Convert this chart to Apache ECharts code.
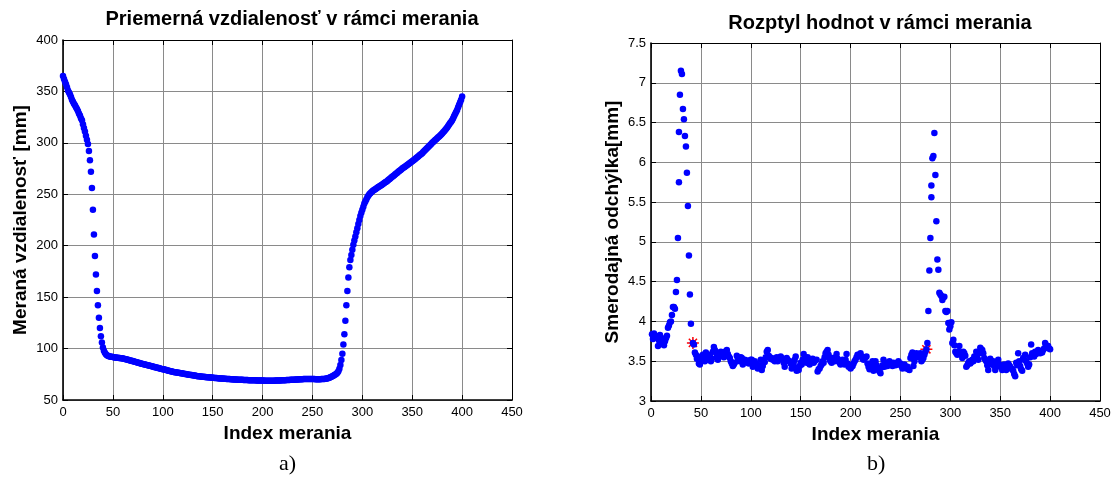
<!DOCTYPE html>
<html>
<head>
<meta charset="utf-8">
<script src="https://cdn.jsdelivr.net/npm/echarts@6/dist/echarts.min.js"></script>
<style>
html,body{margin:0;padding:0;background:#fff;}
#chart{width:1120px;height:482px;}
</style>
</head>
<body>
<div id="chart"></div>
<script>
// ---- Data ----
const xTicks = [0, 50, 100, 150, 200, 250, 300, 350, 400, 450];
const distTicks = [50, 100, 150, 200, 250, 300, 350, 400];
const sdTicks = [3, 3.5, 4, 4.5, 5, 5.5, 6, 6.5, 7, 7.5];

// Mean measured distance [mm] for measurement index 0..400
const distValues = [
 365,362,359.5,357,354,351,349,347,344.5,342,340,338,336.5,334.5,333,331,328.5,326.5,324,322,318,314.5,311,307,303,299,
 292,283,272,256,235,211,190,172,156,142,130,120,112,106,101,98,96,94.5,93.5,93,92.6,92.3,92.1,92,91.8,
 91.6,91.4,91.2,91.1,91,90.9,90.8,90.6,90.5,90.3,90.1,89.9,89.6,89.4,89.1,88.8,88.5,88.3,88,87.8,87.5,87.2,86.9,86.6,86.3,86.1,85.8,85.5,85.3,85,84.8,84.5,84.3,84,83.8,83.5,83.3,83,82.8,82.5,82.2,82,81.7,81.5,81.2,81,80.7,80.5,80.2,80,
 79.8,79.5,79.3,79,78.8,78.5,78.3,78,77.8,77.5,77.3,77.1,76.9,76.7,76.5,76.4,76.2,76,75.9,75.7,75.5,75.3,75.2,75,74.8,74.6,74.5,74.3,74.2,74,73.8,73.7,73.5,73.4,73.2,73.1,73,72.8,72.7,72.6,72.5,72.4,72.3,72.2,72.1,72,71.9,71.8,71.8,71.7,
 71.6,71.5,71.4,71.3,71.2,71.1,71,71,70.9,70.8,70.7,70.6,70.6,70.5,70.4,70.3,70.3,70.2,70.2,70.1,70,70,69.9,69.9,69.8,69.8,69.7,69.7,69.6,69.6,69.5,69.5,69.5,69.4,69.4,69.3,69.3,69.3,69.2,69.2,69.1,69.1,69.1,69,69,69,69,68.9,68.9,68.9,
 68.9,68.8,68.8,68.8,68.8,68.8,68.8,68.8,68.8,68.8,68.8,68.8,68.9,68.9,68.9,69,69,69,69.1,69.1,69.2,69.2,69.3,69.4,69.4,69.5,69.5,69.6,69.6,69.7,69.8,69.8,69.9,69.9,70,70,70.1,70.1,70.2,70.2,70.3,70.3,70.4,70.4,70.4,70.4,70.4,70.4,70.4,70.4,
 70.3,70.3,70.2,70.2,70.2,70.2,70.2,70.2,70.3,70.3,70.4,70.5,70.6,70.8,71,71.3,71.6,72,72.5,73,73.6,74.2,74.8,75.5,76.5,78,80.5,
 84,89,95,104,114,127,142,156,169,179,186,191,196,201,205,209,213,217,221,225,229,232,235,238,241,243,245,247,248.5,250,251,252,253,
 253.7,254.4,255,255.7,256.4,257,257.6,258.2,258.9,259.5,260.2,260.9,261.6,262.3,263,263.8,264.6,265.4,266.2,267,267.8,268.6,269.4,270.2,271,271.8,272.6,273.4,274.2,275,275.7,276.4,277.1,277.8,278.5,279.2,279.9,280.6,281.3,282,282.8,283.6,284.4,285.2,286,286.8,287.6,288.4,289.2,290,
 291,292,293,294,295,296,297,298,299,300,300.9,301.8,302.7,303.6,304.5,305.4,306.3,307.2,308.1,309,310.2,311.4,312.6,313.8,315,316.4,317.8,319.2,320.6,322,324,326,328,330,332,334.5,337,339.5,342,345
];

// Standard deviation [mm]: [measurement index, value]
const sdPoints = [
 [1,3.84],[2,3.78],[3,3.85],[4,3.80],[6,3.81],[7,3.69],[8,3.76],[9,3.83],[11,3.79],[12,3.72],[13,3.70],[14,3.75],[15,3.79],[16,3.82],[17,3.92],[18,3.95],[19,3.99],[20,4.00],
 [21,4.08],[22,4.18],[23,4.18],[24,4.16],[25,4.37],[26,4.52],[27,5.05],[28,6.38],[28,5.75],[29,6.85],[30,7.15],[31,7.11],[32,6.67],[33,6.54],[34,6.33],[35,6.20],[36,5.87],[37,5.45],[38,4.83],[39,4.34],[40,3.97],
 [42,3.73],[43,3.71],[44,3.61],[45,3.58],[46,3.53],[47,3.56],[48,3.47],[49,3.46],[50,3.50],[51,3.55],[52,3.58],[53,3.54],[54,3.50],[55,3.61],[56,3.57],[57,3.52],[58,3.55],[59,3.58],[60,3.50],
 [61,3.53],[62,3.62],[63,3.68],[64,3.64],[65,3.62],[66,3.57],[67,3.52],[68,3.56],[69,3.60],[70,3.62],[72,3.58],[73,3.55],[74,3.62],[76,3.64],[77,3.59],[78,3.56],[79,3.54],[80,3.50],
 [81,3.47],[82,3.44],[83,3.46],[84,3.48],[86,3.57],[87,3.54],[88,3.52],[89,3.50],[90,3.55],[91,3.54],[92,3.46],[93,3.50],[94,3.52],[96,3.51],[97,3.48],[98,3.47],[99,3.50],[100,3.52],
 [101,3.52],[102,3.43],[103,3.48],[104,3.50],[106,3.46],[107,3.41],[108,3.45],[110,3.52],[111,3.39],[112,3.44],[113,3.51],[114,3.49],[115,3.55],[116,3.62],[117,3.64],[118,3.57],[119,3.55],[120,3.53],
 [121,3.54],[122,3.52],[124,3.50],[126,3.55],[127,3.50],[128,3.53],[130,3.56],[131,3.54],[132,3.52],[133,3.48],[134,3.43],[135,3.50],[136,3.54],[137,3.52],[139,3.50],[140,3.47],
 [141,3.41],[142,3.45],[143,3.48],[144,3.52],[145,3.56],[146,3.38],[147,3.42],[148,3.39],[149,3.44],[150,3.48],[151,3.46],[152,3.52],[153,3.59],[154,3.55],[155,3.50],[156,3.48],[157,3.55],[158,3.52],[159,3.46],[160,3.50],
 [161,3.52],[162,3.53],[163,3.48],[164,3.50],[166,3.52],[167,3.37],[168,3.40],[169,3.41],[170,3.44],[171,3.46],[172,3.50],[173,3.48],[174,3.55],[175,3.60],[176,3.62],[177,3.64],[178,3.58],[179,3.52],[180,3.50],
 [181,3.48],[182,3.54],[183,3.52],[184,3.50],[185,3.55],[186,3.59],[187,3.53],[188,3.50],[189,3.48],[190,3.46],[191,3.50],[192,3.52],[193,3.49],[194,3.46],[195,3.52],[196,3.59],[197,3.47],[198,3.43],[199,3.45],[200,3.41],
 [201,3.43],[202,3.44],[203,3.47],[204,3.50],[205,3.52],[206,3.55],[207,3.58],[208,3.57],[209,3.58],[210,3.60],[211,3.56],[212,3.53],[213,3.52],[214,3.54],[215,3.55],[216,3.56],[217,3.47],[218,3.43],[219,3.40],[220,3.44],
 [221,3.47],[222,3.50],[223,3.38],[224,3.42],[225,3.50],[226,3.45],[227,3.41],[228,3.39],[229,3.37],[230,3.35],[231,3.42],[232,3.45],[233,3.52],[234,3.43],[235,3.46],[236,3.48],[237,3.44],[238,3.47],[239,3.50],[240,3.48],
 [241,3.46],[242,3.44],[243,3.48],[244,3.46],[245,3.45],[246,3.46],[247,3.48],[248,3.50],[249,3.46],[250,3.47],[251,3.44],[252,3.41],[253,3.44],[254,3.46],[255,3.43],[256,3.41],[257,3.43],[258,3.40],[259,3.39],[260,3.54],
 [261,3.58],[262,3.61],[263,3.44],[264,3.50],[265,3.55],[266,3.60],[267,3.58],[268,3.55],[269,3.58],[270,3.60],[271,3.50],[272,3.52],[273,3.54],[274,3.58],[275,3.62],[276,3.65],[277,3.73],[278,4.13],[279,4.64],[280,5.05],
 [281,5.71],[281,5.56],[282,6.05],[283,6.08],[284,6.37],[285,5.84],[286,5.26],[287,4.78],[288,4.65],[289,4.36],[290,4.34],[291,4.32],[292,4.27],[293,4.30],[294,4.31],[295,4.13],[296,4.12],[297,4.13],[298,3.98],[299,3.90],[300,3.94],
 [301,3.99],[302,3.73],[303,3.77],[304,3.70],[305,3.62],[306,3.60],[307,3.58],[308,3.62],[309,3.69],[310,3.61],[311,3.58],[312,3.54],[313,3.62],[314,3.60],[315,3.57],[316,3.43],[317,3.45],[318,3.48],[319,3.50],[320,3.47],
 [321,3.49],[322,3.52],[323,3.50],[324,3.56],[325,3.54],[326,3.62],[327,3.58],[328,3.52],[329,3.60],[330,3.67],[331,3.65],[332,3.64],[333,3.60],[334,3.54],[335,3.52],[336,3.50],[337,3.45],[338,3.39],[339,3.48],[340,3.53],
 [341,3.48],[342,3.46],[343,3.50],[344,3.44],[345,3.39],[346,3.45],[347,3.48],[348,3.52],[349,3.46],[350,3.43],[351,3.45],[352,3.39],[353,3.42],[354,3.46],[355,3.44],[356,3.39],[357,3.43],[358,3.47],[359,3.45],[360,3.43],
 [361,3.41],[362,3.40],[363,3.38],[364,3.34],[365,3.31],[366,3.48],[367,3.45],[368,3.60],[369,3.50],[370,3.44],[371,3.40],[372,3.38],[373,3.54],[374,3.52],[375,3.58],[376,3.50],[377,3.47],[378,3.43],[379,3.46],[380,3.55],
 [381,3.71],[382,3.60],[383,3.58],[384,3.56],[385,3.62],[386,3.59],[387,3.61],[388,3.64],[389,3.62],[390,3.60],[391,3.62],[392,3.61],[393,3.64],[394,3.66],[395,3.73],[396,3.70],[397,3.67],[398,3.69],[399,3.66],[400,3.65]
];

// Highlighted points (red asterisks)
const markedPoints = [[42, 3.73], [276, 3.65]];

// ---- Chart ----
const FONT = '"Liberation Sans", Arial, sans-serif';
const chart = echarts.init(document.getElementById('chart'), null, {renderer: 'canvas'});

function bottomAxis(gridIndex, name) {
  return {
    gridIndex, type: 'value', position: 'bottom',
    min: xTicks[0], max: xTicks[xTicks.length - 1], interval: xTicks[1] - xTicks[0],
    name, nameLocation: 'middle', nameGap: 22,
    nameTextStyle: {fontFamily: FONT, fontWeight: 'bold', fontSize: 19, color: '#000'},
    axisLine: {show: true, onZero: false, lineStyle: {color: '#000', width: 1.6}},
    axisTick: {show: true, inside: true, length: 5, lineStyle: {color: '#000'}},
    axisLabel: {fontFamily: FONT, fontSize: 13, color: '#000', margin: 6, showMaxLabel: true, showMinLabel: true},
    splitLine: {show: true, lineStyle: {color: '#8a8a8a', width: 1}}
  };
}
function topAxis(gridIndex) {
  return {
    gridIndex, type: 'value', position: 'top',
    min: xTicks[0], max: xTicks[xTicks.length - 1], interval: xTicks[1] - xTicks[0],
    axisLine: {show: true, onZero: false, lineStyle: {color: '#000', width: 1}},
    axisTick: {show: true, inside: true, length: 5, lineStyle: {color: '#000'}},
    axisLabel: {show: false}, splitLine: {show: false}
  };
}
function leftAxis(gridIndex, ticks, name, gap) {
  return {
    gridIndex, type: 'value', position: 'left',
    min: ticks[0], max: ticks[ticks.length - 1], interval: ticks[1] - ticks[0],
    name, nameLocation: 'middle', nameGap: gap,
    nameTextStyle: {fontFamily: FONT, fontWeight: 'bold', fontSize: 19, color: '#000'},
    axisLine: {show: true, onZero: false, lineStyle: {color: '#000', width: 1.6}},
    axisTick: {show: true, inside: true, length: 5, lineStyle: {color: '#000'}},
    axisLabel: {fontFamily: FONT, fontSize: 13, color: '#000', margin: 5, showMaxLabel: true, showMinLabel: true},
    splitLine: {show: true, lineStyle: {color: '#8a8a8a', width: 1}}
  };
}
function rightAxis(gridIndex, ticks) {
  return {
    gridIndex, type: 'value', position: 'right',
    min: ticks[0], max: ticks[ticks.length - 1], interval: ticks[1] - ticks[0],
    axisLine: {show: true, onZero: false, lineStyle: {color: '#000', width: 1}},
    axisTick: {show: true, inside: true, length: 5, lineStyle: {color: '#000'}},
    axisLabel: {show: false}, splitLine: {show: false}
  };
}

const starPath = 'path://M5,0L5,10M0,5L10,5M1.6,1.6L8.4,8.4M1.6,8.4L8.4,1.6';

chart.setOption({
  animation: false,
  backgroundColor: '#fff',
  title: [
    {text: 'Priemerná vzdialenosť v rámci merania', left: 287, top: 4, textAlign: 'center',
     textStyle: {fontFamily: FONT, fontWeight: 'bold', fontSize: 20, color: '#000'}},
    {text: 'Rozptyl hodnot v rámci merania', left: 875, top: 8, textAlign: 'center',
     textStyle: {fontFamily: FONT, fontWeight: 'bold', fontSize: 20, color: '#000'}}
  ],
  grid: [
    {left: 63, top: 40, width: 449, height: 360},
    {left: 651, top: 43, width: 449, height: 358}
  ],
  xAxis: [bottomAxis(0, 'Index merania'), topAxis(0), bottomAxis(1, 'Index merania'), topAxis(1)],
  yAxis: [leftAxis(0, distTicks, 'Meraná vzdialenosť [mm]', 33), rightAxis(0, distTicks),
          leftAxis(1, sdTicks, 'Smerodajná odchýlka[mm]', 29), rightAxis(1, sdTicks)],
  graphic: [
    {type: 'text', left: 279, top: 453, style: {text: 'a)', font: '22px "Liberation Serif", "Times New Roman", serif', fill: '#000'}},
    {type: 'text', left: 867, top: 453, style: {text: 'b)', font: '22px "Liberation Serif", "Times New Roman", serif', fill: '#000'}}
  ],
  series: [
    {type: 'scatter', xAxisIndex: 0, yAxisIndex: 0, symbol: 'circle', symbolSize: 6.5,
     itemStyle: {color: '#0000ff', opacity: 1}, data: distValues.map((v, i) => [i, v]), silent: true, z: 3},
    {type: 'scatter', xAxisIndex: 2, yAxisIndex: 2, symbol: starPath, symbolSize: 12,
     itemStyle: {color: 'none', borderColor: '#ff0000', borderWidth: 1.5, opacity: 1}, data: markedPoints, silent: true, z: 2},
    {type: 'scatter', xAxisIndex: 2, yAxisIndex: 2, symbol: 'circle', symbolSize: 6.5,
     itemStyle: {color: '#0000ff', opacity: 1}, data: sdPoints, silent: true, z: 3}
  ]
});
</script>
</body>
</html>
